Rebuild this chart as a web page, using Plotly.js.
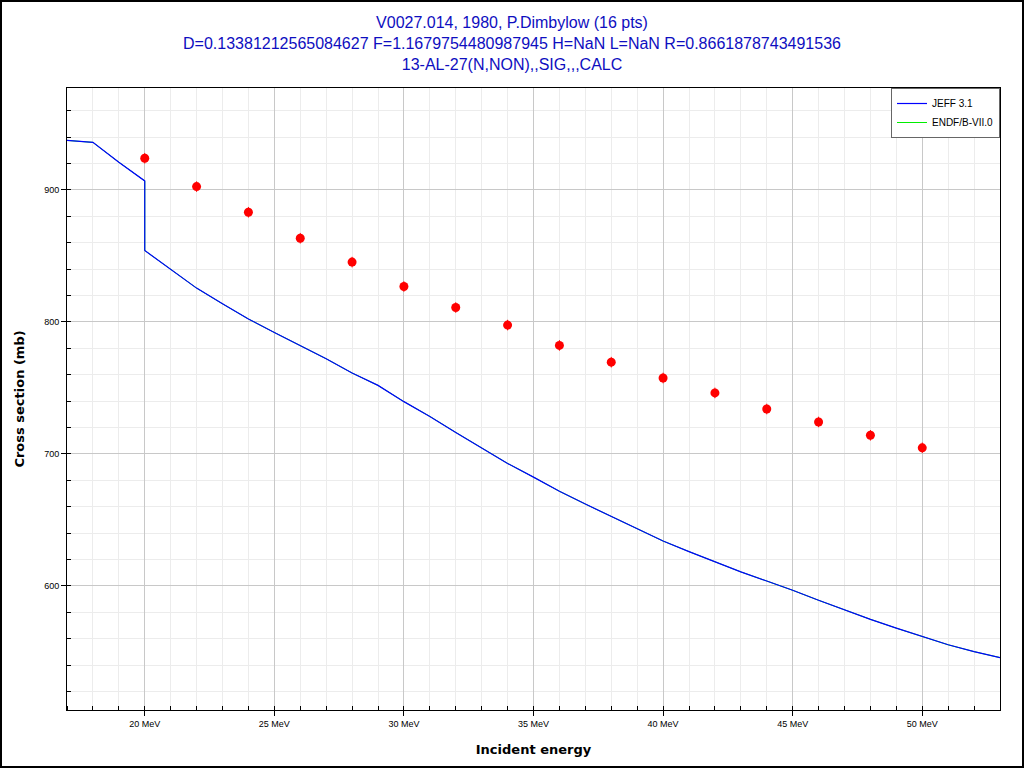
<!DOCTYPE html>
<html>
<head>
<meta charset="utf-8">
<script src="https://cdn.plot.ly/plotly-3.0.1.min.js"></script>
<style>
  html, body { margin: 0; padding: 0; background: #fff; }
  #wrap { position: relative; width: 1024px; height: 768px; }
  #chart { width: 1024px; height: 768px; }
  #frame { position: absolute; left: 0; top: 0; width: 1024px; height: 768px;
           box-sizing: border-box; border: 2px solid #000; pointer-events: none; }
</style>
</head>
<body>
<div id="wrap"><div id="chart"></div><div id="frame"></div></div>
<script>
// ---- data ----
var jeffEnergy = [17, 18, 19, 20, 20, 21, 22, 23, 24, 25, 26, 27, 28, 29, 30, 31, 32, 33, 34, 35,
                  36, 37, 38, 39, 40, 41, 42, 43, 44, 45, 46, 47, 48, 49, 50, 51, 52, 53];
var jeffSigma  = [937.5, 936, 921, 906.8, 854.1, 839.5, 825.6, 813.7, 802.2, 792, 782, 772.1, 761.3, 751.9,
                  739.6, 728.4, 716.3, 704.6, 692.8, 682.4, 671.7, 662, 652.7, 643.1, 634.0, 626.0,
                  618.1, 610.6, 603.7, 596.7, 589.1, 581.8, 574.7, 568.0, 561.6, 555.4, 550.2, 545.7];
var endfEnergy = jeffEnergy.slice();
var endfSigma  = jeffSigma.slice();

var expEnergy = [20, 22, 24, 26, 28, 30, 32, 34, 36, 38, 40, 42, 44, 46, 48, 50];
var expSigma  = [924.0, 902.5, 883.1, 863.4, 845.3, 826.8, 810.9, 797.6, 782.2, 769.5,
                 757.5, 746.2, 734.0, 724.2, 714.1, 704.6];
var expError  = [4, 4, 4, 4, 4, 4, 4, 4, 4, 4, 4, 4, 4, 4, 4, 4];

var xTickVals = [20, 25, 30, 35, 40, 45, 50];
var xTickText = ['20 MeV', '25 MeV', '30 MeV', '35 MeV', '40 MeV', '45 MeV', '50 MeV'];
var yTickVals = [600, 700, 800, 900];
var yTickText = ['600', '700', '800', '900'];

var titleLines = ['V0027.014, 1980, P.Dimbylow (16 pts)',
                  'D=0.13381212565084627 F=1.1679754480987945 H=NaN L=NaN R=0.8661878743491536',
                  '13-AL-27(N,NON),,SIG,,,CALC'];

// ---- traces ----
var traces = [
  { x: endfEnergy, y: endfSigma, name: 'ENDF/B-VII.0', mode: 'lines',
    line: { color: '#00ee00', width: 1 }, hoverinfo: 'x+y' },
  { x: jeffEnergy, y: jeffSigma, name: 'JEFF 3.1', mode: 'lines',
    line: { color: '#0000ff', width: 1.2 }, hoverinfo: 'x+y' },
  { x: expEnergy, y: expSigma, name: 'V0027.014', mode: 'markers', showlegend: false,
    marker: { color: '#ff0000', size: 9 },
    error_y: { type: 'data', array: expError, visible: true, color: '#ff0000', thickness: 1, width: 0 } }
];

var FONT = 'Liberation Sans, Arial, sans-serif';
var BOLDFONT = 'DejaVu Sans, Verdana, sans-serif';

var layout = {
  width: 1024, height: 768,
  margin: { l: 67, r: 24, t: 88, b: 58 },
  paper_bgcolor: '#ffffff', plot_bgcolor: '#ffffff',
  title: {
    text: titleLines.join('<br>'),
    font: { family: FONT, size: 16, color: '#0e0ec0' },
    x: 0.5, xref: 'container', xanchor: 'center',
    y: 1 - 28 / 768, yref: 'container', yanchor: 'top'
  },
  showlegend: true,
  legend: {
    x: 1, xanchor: 'right', y: 1, yanchor: 'top',
    bgcolor: '#ffffff', bordercolor: '#666666', borderwidth: 1,
    font: { family: FONT, size: 10, color: '#000' },
    traceorder: 'reversed'
  },
  xaxis: {
    range: [17, 53],
    tickmode: 'array', tickvals: xTickVals, ticktext: xTickText,
    ticks: 'outside', ticklen: 5, tickcolor: '#000', tickwidth: 1,
    tickfont: { family: FONT, size: 9, color: '#000' },
    showgrid: true, gridcolor: '#c8c8c8', gridwidth: 1,
    showline: true, linecolor: '#000', linewidth: 1, mirror: true,
    zeroline: false,
    minor: { dtick: 1, tick0: 0, ticks: 'inside', ticklen: 4, tickcolor: '#000',
             showgrid: true, gridcolor: '#ececec', gridwidth: 1 },
    title: { text: 'Incident energy', font: { family: BOLDFONT, size: 13, color: '#000', weight: 'bold' }, standoff: 17 }
  },
  yaxis: {
    range: [506, 977.2],
    tickmode: 'array', tickvals: yTickVals, ticktext: yTickText,
    ticks: 'outside', ticklen: 5, tickcolor: '#000', tickwidth: 1,
    tickfont: { family: FONT, size: 9, color: '#000' },
    showgrid: true, gridcolor: '#c8c8c8', gridwidth: 1,
    showline: true, linecolor: '#000', linewidth: 1, mirror: true,
    zeroline: false,
    minor: { dtick: 20, tick0: 0, ticks: 'inside', ticklen: 4, tickcolor: '#000',
             showgrid: true, gridcolor: '#ececec', gridwidth: 1 },
    title: { text: 'Cross section (mb)', font: { family: BOLDFONT, size: 13, color: '#000', weight: 'bold' }, standoff: 16 }
  }
};

Plotly.newPlot('chart', traces, layout, { displayModeBar: false, staticPlot: true });
</script>
</body>
</html>
